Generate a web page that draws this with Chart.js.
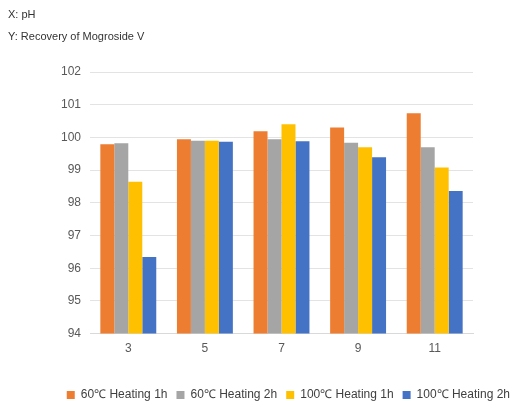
<!DOCTYPE html>
<html>
<head>
<meta charset="utf-8">
<script src="https://cdn.jsdelivr.net/npm/chart.js@4.4.0/dist/chart.umd.min.js"></script>
<style>
  body { margin: 0; background: #fff; font-family: "Liberation Sans", Arial, sans-serif; }
  #wrap { position: relative; width: 519px; height: 407px; }
  .note { position: absolute; left: 8px; font-size: 11px; color: #333; }
  canvas { position: absolute; left: 0; top: 0; }
</style>
</head>
<body>
<div id="wrap">
  <canvas id="myChart" width="519" height="407"></canvas>
  <div class="note" style="top:8px">X: pH</div>
  <div class="note" style="top:30px">Y: Recovery of Mogroside V</div>
</div>
<script>
const labels = ['3', '5', '7', '9', '11'];
const heat60_1h = [99.79, 99.94, 100.19, 100.30, 100.74];
const heat60_2h = [99.82, 99.90, 99.94, 99.84, 99.70];
const heat100_1h = [98.64, 99.90, 100.40, 99.70, 99.08];
const heat100_2h = [96.34, 99.87, 99.88, 99.39, 98.36];

// trims the legend box so it sits lower, closer to the bottom edge
const legendTrim = {
    id: 'legendTrim',
    beforeInit(chart) {
        const fit = chart.legend.fit;
        chart.legend.fit = function() {
            fit.bind(chart.legend)();
            this.height -= 8;
        };
    }
};

const ctx = document.getElementById('myChart').getContext('2d');
new Chart(ctx, {
    type: 'bar',
    data: {
        labels: labels,
        datasets: [
            { label: '60\u2103 Heating 1h', data: heat60_1h, backgroundColor: '#ED7D31' },
            { label: '60\u2103 Heating 2h', data: heat60_2h, backgroundColor: '#A5A5A5' },
            { label: '100\u2103 Heating 1h', data: heat100_1h, backgroundColor: '#FFC000' },
            { label: '100\u2103 Heating 2h', data: heat100_2h, backgroundColor: '#4472C4' }
        ]
    },
    plugins: [legendTrim],
    options: {
        responsive: false,
        animation: false,
        datasets: { bar: { categoryPercentage: 0.73, barPercentage: 1.0 } },
        layout: { padding: { top: 72, right: 0, bottom: 4, left: 0 } },
        scales: {
            x: {
                afterFit: function(scale) { scale.height += 16; },
                grid: { display: false, drawTicks: false },
                border: { color: '#d9d9d9' },
                ticks: { color: '#595959', font: { family: 'Liberation Sans', size: 12 }, padding: 8 }
            },
            y: {
                min: 94,
                max: 102,
                afterFit: function(scale) { scale.width = 90; },
                grid: { color: '#e3e3e3', drawTicks: false },
                border: { display: false },
                ticks: { stepSize: 1, color: '#595959', padding: 9, font: { family: 'Liberation Sans', size: 12 } }
            },
            // empty right axis, only keeps the plot area off the right edge
            yRight: {
                position: 'right',
                afterFit: function(scale) { scale.width = 46; },
                grid: { display: false, drawTicks: false },
                border: { display: false },
                ticks: { display: false }
            }
        },
        plugins: {
            legend: {
                position: 'bottom',
                align: 'end',
                labels: {
                    boxWidth: 8,
                    boxHeight: 8,
                    padding: 9,
                    color: '#404040',
                    font: { family: 'Liberation Sans', size: 12 }
                }
            },
            tooltip: { enabled: false }
        }
    }
});
</script>
</body>
</html>
